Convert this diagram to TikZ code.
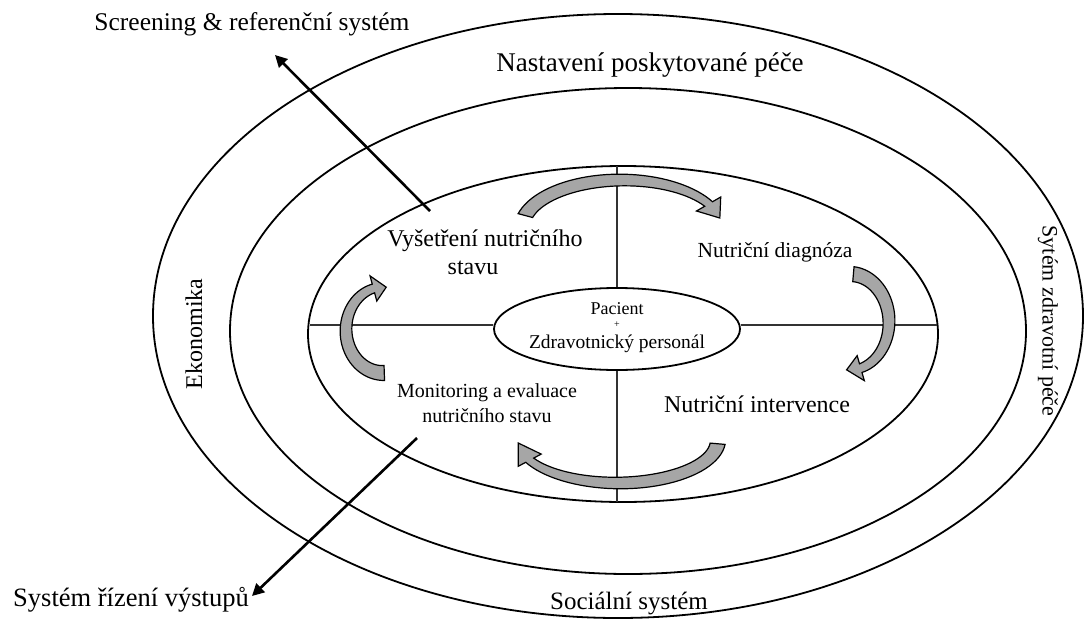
\documentclass[tikz,border=0pt]{standalone}
\usepackage{fontspec}
\setmainfont{Liberation Serif}
\usetikzlibrary{arrows.meta,shapes.geometric}
\tikzset{
  ring/.style={draw=black, line width=1.8pt},
  crossline/.style={draw=black!80, line width=1.2pt},
  lbl/.style={inner sep=1pt, align=center},
  blockarrow/.style={draw=black, fill=black!35, line width=1.2pt, line join=miter},
  outarrow/.style={draw=black, line width=2.6pt, -{Triangle[length=12pt,width=12pt]}}
}
\def\wt{7.5}
\def\wh{4.5}
\newcommand{\curvedblock}[9]{%
  \filldraw[blockarrow] plot[domain=#5:#6,samples=40] ({#1+(#3+\wh+(\wt-\wh)*(#6-\x)/(#6-#5))*cos(\x)},{#2+(#4+\wh+(\wt-\wh)*(#6-\x)/(#6-#5))*sin(\x)})
  -- ({#1+(#3+#9)*cos(#6)},{#2+(#4+#9)*sin(#6)})
  -- ({#1+#3*cos(#7)},{#2+#4*sin(#7)})
  -- ({#1+(#3-#9)*cos(#6)},{#2+(#4-#9)*sin(#6)})
  -- plot[domain=#6:#5,samples=40] ({#1+(#3-\wh-(\wt-\wh)*(#6-\x)/(#6-#5))*cos(\x)},{#2+(#4-\wh-(\wt-\wh)*(#6-\x)/(#6-#5))*sin(\x)}) -- cycle;}
\begin{document}
\begin{tikzpicture}[x=1pt,y=-1pt]
\useasboundingbox[fill=white] (0,0) rectangle (1087,627);
% rings
\draw[ring] (618,316) ellipse [x radius=465, y radius=302];
\draw[ring] (628,331) ellipse [x radius=398, y radius=243];
\draw[ring] (623,334) ellipse [x radius=315, y radius=168];
% center
\node[ring, ellipse, minimum width=246pt, minimum height=82pt, inner sep=0pt] (center) at (617,329) {};
\node[inner sep=0pt, font=\fontsize{18}{20}\selectfont] (pac) at (617,309) {Pacient};
\node[inner sep=0pt, font=\fontsize{10}{11}\selectfont] (plus) at (617,325) {+};
\node[inner sep=0pt, font=\fontsize{19.5}{21}\selectfont] (zdr) at (617,344) {Zdravotnický personál};
% cross
\coordinate (hl) at (310,325);
\coordinate (hr) at (937,325);
\coordinate (vt) at (617,166);
\coordinate (vb) at (617,502);
\draw[crossline] (hl) -- (hl -| center.west);
\draw[crossline] (hr -| center.east) -- (hr);
\draw[crossline] (vt) -- (center.north);
\draw[crossline] (center.south) -- (vb);
% labels
\node[lbl, font=\fontsize{27}{29}\selectfont] (nast) at (650,65) {Nastavení poskytované péče};
\node[lbl, font=\fontsize{25.5}{27}\selectfont] (scr) at (252,24) {Screening \& referenční systém};
\node[lbl, rotate=-90, font=\fontsize{22}{24}\selectfont] (szp) at (1048,321) {Sytém zdravotní péče};
\node[lbl, rotate=90, font=\fontsize{24}{26}\selectfont] (ekon) at (194,334) {Ekonomika};
\node[lbl, font=\fontsize{25}{27}\selectfont] (soc) at (629,603) {Sociální systém};
\node[lbl, font=\fontsize{24}{26}\selectfont] (vys) at (485,241) {Vyšetření nutričního};
\node[lbl, font=\fontsize{24}{26}\selectfont] (vys2) at (473,268) {stavu};
\node[lbl, font=\fontsize{21.5}{23}\selectfont] (diag) at (775,252) {Nutriční diagnóza};
\node[lbl, font=\fontsize{24}{26}\selectfont] (intv) at (757,404) {Nutriční intervence};
\node[lbl, font=\fontsize{20}{25}\selectfont] (mon) at (487,403) {Monitoring a evaluace\\nutričního stavu};
\node[lbl, font=\fontsize{26.5}{28}\selectfont] (sys) at (131,600) {Systém řízení výstupů};
% straight arrows
\coordinate (s1) at (430,211);
\coordinate (t1) at (275,55);
\coordinate (s2) at (417,438);
\coordinate (t2) at (252,596);
\draw[outarrow] (s1) -- (t1);
\draw[outarrow] (s2) -- (t2);
% curved block arrows
\curvedblock{622}{228}{100}{48}{195}{330}{348}{6}{14}
\curvedblock{850}{322}{39}{48}{275}{434}{455}{6}{13}
\curvedblock{618}{440}{100}{43}{5}{152}{176}{6}{13}
\curvedblock{383}{330}{37}{43}{88}{255}{275}{6}{13}
\end{tikzpicture}
\end{document}
